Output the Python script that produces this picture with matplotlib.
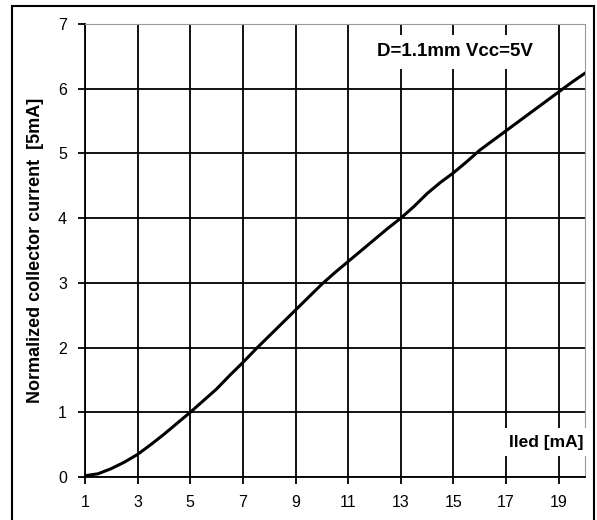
import matplotlib.pyplot as plt
from matplotlib.patches import Rectangle

plt.rcParams['font.family'] = ['Liberation Sans', 'DejaVu Sans']

# LED current [mA] and normalized collector current
iled = [1.0, 1.5, 2.0, 2.5, 3.0, 3.5, 4.0, 4.5, 5.0, 5.5, 6.0, 6.5, 7.0, 7.5,
        8.0, 8.5, 9.0, 9.5, 10.0, 10.5, 11.0, 11.5, 12.0, 12.5, 13.0, 13.5,
        14.0, 14.5, 15.0, 15.5, 16.0, 16.5, 17.0, 17.5, 18.0, 18.5, 19.0,
        19.5, 20.0]
ic_norm = [0.02, 0.05, 0.13, 0.23, 0.35, 0.50, 0.66, 0.83, 1.00, 1.18, 1.36,
           1.57, 1.77, 1.98, 2.18, 2.38, 2.58, 2.78, 2.98, 3.16, 3.33, 3.50,
           3.67, 3.84, 4.00, 4.18, 4.38, 4.55, 4.70, 4.87, 5.05, 5.20, 5.35,
           5.50, 5.65, 5.80, 5.95, 6.10, 6.24]

xticks = list(range(1, 20, 2))
yticks = list(range(0, 8))

fig = plt.figure(figsize=(5.97, 5.2), dpi=100)
ax = fig.add_axes([85 / 597, 1 - 477 / 520, 500 / 597, 453 / 520])

ax.plot(iled, ic_norm, color='black', lw=2.2, zorder=3)

ax.set_xlim(1, 20)
ax.set_ylim(0, 7)
ax.set_xticks(xticks)
ax.set_yticks(yticks)
ax.grid(True, color='black', lw=1.3)
ax.set_axisbelow(True)
ax.tick_params(direction='out', length=5, width=1.3, labelsize=11.5, pad=8, color='black')

for side in ['top', 'right']:
    ax.spines[side].set_color('#999999')
for side in ['left', 'bottom']:
    ax.spines[side].set_color('black')
    ax.spines[side].set_linewidth(1.3)

ax.set_ylabel('Normalized collector current  [5mA]', fontsize=13, fontweight='bold')
ax.yaxis.set_label_coords(-41 / 500, 0.5)

ax.text(15.07, 6.57, 'D=1.1mm Vcc=5V', fontsize=13.5, fontweight='bold', ha='center', va='center',
        bbox=dict(facecolor='white', edgecolor='none', pad=6), zorder=4)
ax.text(18.53, 0.54, 'Iled [mA]', fontsize=12.5, fontweight='bold', ha='center', va='center',
        bbox=dict(facecolor='white', edgecolor='none', pad=5), zorder=4)

# outer frame
fig.patches.append(Rectangle((12 / 597, -0.02), 582 / 597, 1 - 6 / 520 + 0.02,
                             transform=fig.transFigure, fill=False, edgecolor='black', lw=1.5))

fig.savefig('out.png', dpi=100)
